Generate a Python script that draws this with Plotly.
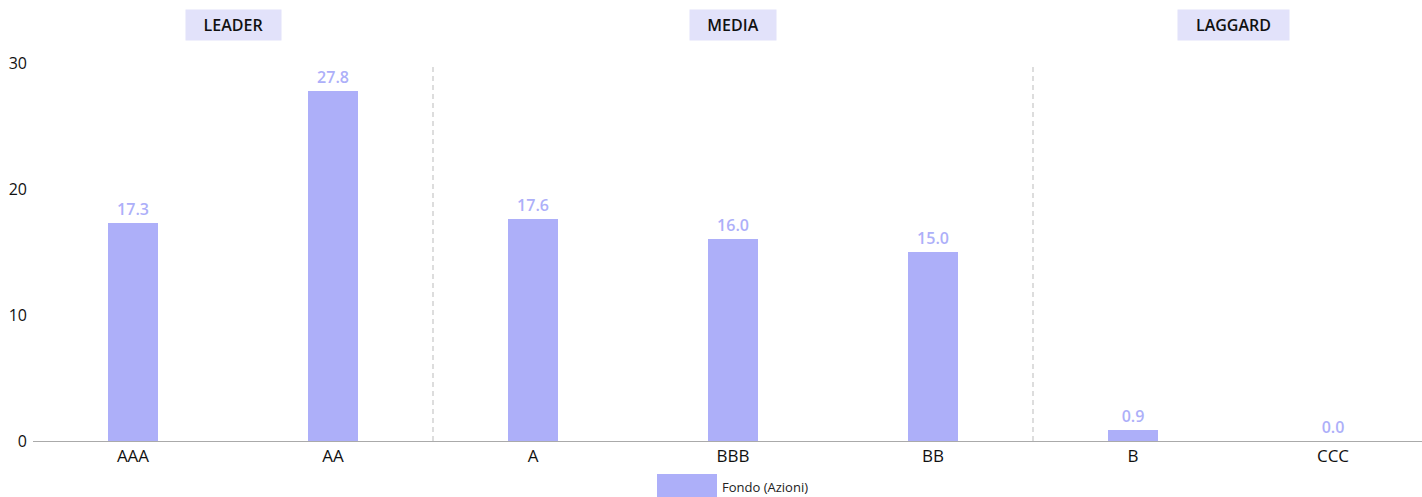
import plotly.graph_objects as go

categories = ["AAA", "AA", "A", "BBB", "BB", "B", "CCC"]
values = [17.3, 27.8, 17.6, 16.0, 15.0, 0.9, 0.0]
series_name = "Fondo (Azioni)"
groups = ["LEADER", "MEDIA", "LAGGARD"]
group_centers = [0.5, 3, 5.5]
group_widths = [95, 86, 111]
dividers = [1.5, 4.5]
y_ticks = [0, 10, 20, 30]

BAR = "#adaff9"
FONT = "Open Sans"
W, H = 1422, 497
ML, MT, MB = 33, 63, 56
plot_h = H - MT - MB
plot_w = W - ML

fig = go.Figure()
fig.add_trace(go.Bar(
    x=list(range(len(categories))), y=values, name=series_name,
    marker=dict(color=BAR, line=dict(width=0)), width=0.25,
    texttemplate="%{y:.1f}", textposition="outside", cliponaxis=False,
    textfont=dict(color=BAR, size=16, family=FONT, weight=600),
    showlegend=False,
))

shapes = []
for d in dividers:
    shapes.append(dict(type="line", xref="x", yref="paper", x0=d, x1=d, y0=0, y1=1,
                       line=dict(color="#bbbbbb", width=1, dash="5px,4px")))
# legend swatch
shapes.append(dict(type="rect", xref="paper", yref="paper",
                   x0=(657 - ML) / plot_w, x1=(717 - ML) / plot_w,
                   y0=(H - MB - 474) / plot_h,
                   y1=(H - MB - 498) / plot_h,
                   fillcolor=BAR, line=dict(width=0)))

annotations = []
for g, c, w in zip(groups, group_centers, group_widths):
    annotations.append(dict(text=g, x=c, xref="x", yref="paper",
                            y=1 + (MT - 25) / plot_h, xanchor="center", yanchor="middle",
                            showarrow=False, bgcolor="#e2e2fa", width=w, height=30,
                            borderpad=0,
                            font=dict(size=16, color="#111111", family=FONT, weight=600)))
annotations.append(dict(text=series_name, xref="paper", yref="paper",
                        x=(721 - ML) / plot_w, y=(H - MB - 487) / plot_h,
                        xanchor="left", yanchor="middle", showarrow=False, borderpad=0,
                        font=dict(size=13, color="#222222", family=FONT)))

fig.update_layout(
    width=W, height=H,
    margin=dict(l=ML, r=0, t=MT, b=MB, pad=0),
    plot_bgcolor="white", paper_bgcolor="white",
    font=dict(family=FONT, size=16, color="#111111"),
    bargap=0,
    shapes=shapes, annotations=annotations,
    xaxis=dict(range=[-0.5, -0.5 + plot_w / 200], tickmode="array",
               tickvals=list(range(len(categories))), ticktext=categories,
               showgrid=False, zeroline=False, showline=True, linecolor="#aaaaaa",
               linewidth=1, ticks="", tickfont=dict(size=17, color="#111111")),
    yaxis=dict(range=[0, 30], tickvals=y_ticks, showgrid=False, zeroline=False,
               showline=False, ticks="", ticklabelstandoff=5,
               tickfont=dict(size=16, color="#111111")),
)

fig.write_html("out.html")
